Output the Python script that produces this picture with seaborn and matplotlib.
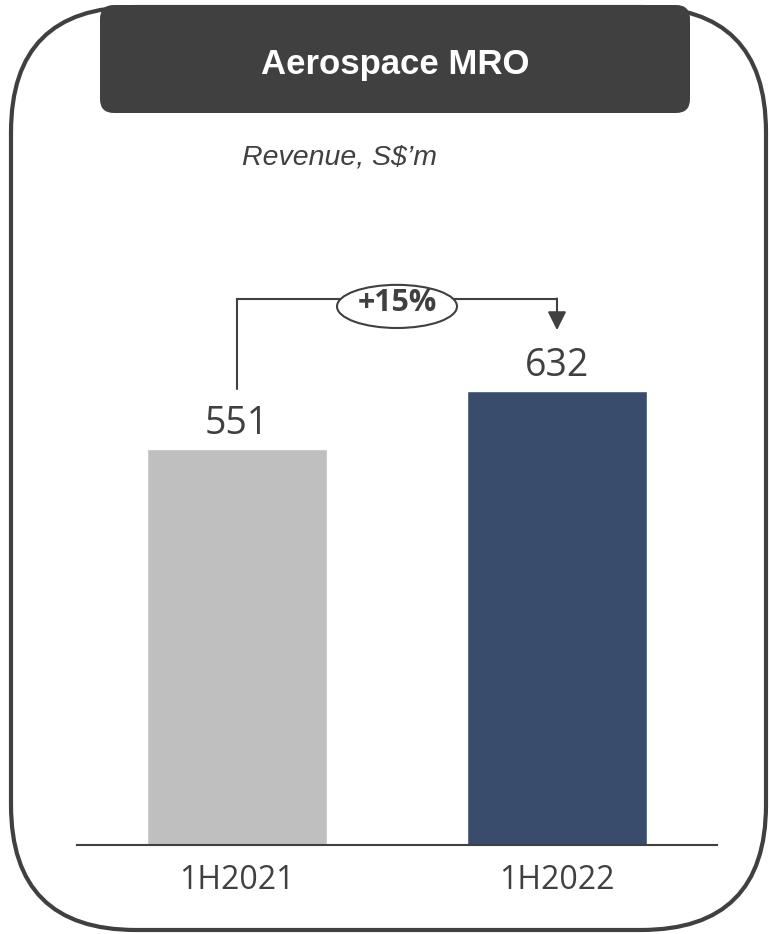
import matplotlib
matplotlib.use("Agg")
import matplotlib.pyplot as plt
from matplotlib.patches import FancyBboxPatch, Ellipse
import seaborn as sns

# chart data
periods = ["1H2021", "1H2022"]
revenue = [551, 632]
bar_colors = ["#BFBFBF", "#394C6B"]
growth_label = "+15%"
panel_title = "Aerospace MRO"
unit_label = "Revenue, S$\u2019m"

text_color = "#404040"

sns.set_theme(style="white")
plt.rcParams["font.family"] = ["Open Sans", "DejaVu Sans"]

fig = plt.figure(figsize=(7.7, 9.34), dpi=100)

# background layer in pixel units for the rounded frame and header
bg = fig.add_axes([0, 0, 1, 1])
bg.set_xlim(0, 770)
bg.set_ylim(934, 0)
bg.axis("off")

header = FancyBboxPatch((100, 5), 590, 108,
                        boxstyle="round,pad=0,rounding_size=14",
                        fc=text_color, ec="none")
bg.add_patch(header)
frame = FancyBboxPatch((11, 7), 755, 923,
                       boxstyle="round,pad=0,rounding_size=125",
                       fc="none", ec=text_color, lw=3)
bg.add_patch(frame)

bg.text(395, 74, panel_title, ha="center", va="baseline", color="white",
        fontsize=25, fontweight="heavy", family=["Liberation Sans", "DejaVu Sans"])
bg.text(340, 165, unit_label, ha="center", va="baseline", color=text_color,
        fontsize=20.5, fontstyle="italic", family=["Liberation Sans", "DejaVu Sans"])

# bar chart
ax = fig.add_axes([77 / 770, 89 / 934, 640 / 770, 645 / 934])
ax.patch.set_alpha(0)
sns.barplot(x=periods, y=revenue, hue=periods, palette=bar_colors,
            width=0.56, saturation=1, legend=False, ax=ax)
ax.set_ylim(0, 897)
ax.set_xlim(-0.5, 1.5)

for i, v in enumerate(revenue):
    ax.text(i, v + 20, str(v), ha="center", va="baseline",
            color=text_color, fontsize=27)

# growth bracket
y_start = revenue[0] + 83
y_top = max(revenue) + 127
y_tip = revenue[1] + 84
ax.plot([0, 0, 1], [y_start, y_top, y_top], color=text_color, lw=1.5,
        solid_joinstyle="miter", zorder=2)
ax.annotate("", xy=(1, y_tip), xytext=(1, y_top + 1),
            arrowprops=dict(arrowstyle="-|>,head_length=0.8,head_width=0.4",
                            color=text_color, lw=1.5, mutation_scale=14,
                            shrinkA=0, shrinkB=0))
ax.add_patch(Ellipse((0.5, y_top - 10), 0.375, 60, fc="white",
                     ec=text_color, lw=1.5, zorder=3))
ax.text(0.5, y_top - 16, growth_label, ha="center", va="baseline",
        color=text_color, fontsize=22, fontweight="bold", zorder=4)

for side in ["left", "top", "right"]:
    ax.spines[side].set_visible(False)
ax.spines["bottom"].set_color(text_color)
ax.spines["bottom"].set_linewidth(1.5)
ax.set_yticks([])
ax.set_xlabel("")
ax.set_ylabel("")
ax.tick_params(axis="x", length=0, pad=14, labelsize=23, labelcolor=text_color)

fig.savefig("out.png", dpi=100)
